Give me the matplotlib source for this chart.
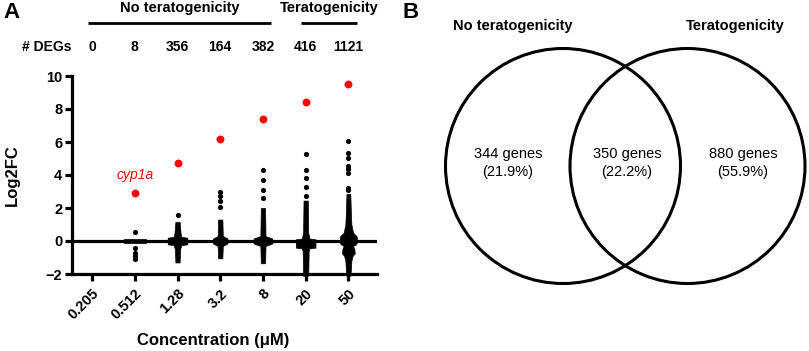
import matplotlib
matplotlib.use("Agg")
import matplotlib.pyplot as plt
import matplotlib.transforms as mtransforms
from matplotlib.patches import Circle
import numpy as np

plt.rcParams['font.family'] = ['Liberation Sans', 'DejaVu Sans']

# ---------------- data ----------------
concentrations = ["0.205", "0.512", "1.28", "3.2", "8", "20", "50"]
degs = ["0", "8", "356", "164", "382", "416", "1121"]
groups = ["No teratogenicity", "Teratogenicity"]
group_span = [(0, 4), (5, 6)]

cyp1a = [None, 2.9, 4.7, 6.2, 7.4, 8.4, 9.5]

# isolated (readable) points per concentration
outliers = [
    [],
    [0.55, -0.45, -0.7, -0.9, -1.1],
    [1.6],
    [3.0, 2.75, 2.45, 2.05],
    [4.3, 3.7, 3.1, 2.6],
    [5.3, 4.3, 3.8, 3.3, 2.75, -2.0],
    [6.05, 5.35, 5.05, 4.55, 4.35, 4.15, 3.2, 3.1],
]
# dense body silhouettes: log2FC levels and half-width of the point cloud
dense_y = [
    [],
    [-0.12, 0.12],
    [-1.3, -0.5, -0.25, -0.2, 0.2, 0.25, 0.5, 1.15],
    [-1.05, -0.3, -0.15, 0.15, 0.3, 1.3],
    [-1.35, -0.3, -0.15, 0.15, 0.3, 2.0],
    [-2.1, -0.6, -0.45, -0.4, 0.1, 0.15, 0.5, 2.45],
    [-2.1, -1.2, -0.9, -0.75, -0.5, -0.3, -0.2, 0.0, 0.3, 0.5, 1.0, 2.0, 2.85],
]
dense_w = [
    [],
    [0.26, 0.26],
    [0.05, 0.06, 0.09, 0.23, 0.23, 0.09, 0.07, 0.05],
    [0.05, 0.06, 0.17, 0.17, 0.06, 0.05],
    [0.05, 0.06, 0.22, 0.22, 0.06, 0.05],
    [0.06, 0.07, 0.09, 0.23, 0.23, 0.09, 0.06, 0.05],
    [0.05, 0.07, 0.10, 0.15, 0.14, 0.11, 0.18, 0.21, 0.19, 0.11, 0.07, 0.055, 0.045],
]

venn_sets = ["No teratogenicity", "Teratogenicity"]
venn_counts = [344, 350, 880]
venn_pct = ["21.9%", "22.2%", "55.9%"]

# ---------------- figure ----------------
W, H = 809, 351
fig = plt.figure(figsize=(W / 100, H / 100), dpi=100)

def rect(l, t, r, b):
    return [l / W, 1 - b / H, (r - l) / W, (b - t) / H]

ax = fig.add_axes(rect(72, 76, 377, 274))
x = np.arange(len(concentrations))
ax.set_xlim(-0.47, 6.67)
ax.set_ylim(-2, 10)

lw = 2.3
for s in ["top", "right"]:
    ax.spines[s].set_visible(False)
for s in ["left", "bottom"]:
    ax.spines[s].set_linewidth(lw)
ax.axhline(0, color="black", lw=lw, zorder=2)

for i in x:
    if dense_y[i]:
        yy = np.array(dense_y[i]); ww = np.array(dense_w[i])
        ax.fill_betweenx(yy, i - ww, i + ww, color="black", lw=0.5,
                         edgecolor="black", zorder=3, clip_on=False)
    if outliers[i]:
        ax.scatter([i] * len(outliers[i]), outliers[i], s=14, color="black",
                   lw=0, zorder=3, clip_on=False)
    if cyp1a[i] is not None:
        ax.scatter([i], [cyp1a[i]], s=32, color="#ff0000", lw=0, zorder=4,
                   clip_on=False)
ax.text(1, 4.0, "cyp1a", color="#ff0000", style="italic", fontsize=10,
        ha="center", va="center")

ax.set_yticks([-2, 0, 2, 4, 6, 8, 10])
ax.set_xticks(x)
ax.set_xticklabels(concentrations, rotation=45, ha="right",
                   rotation_mode="anchor", fontweight="bold", fontsize=10.5)
for t in ax.get_yticklabels():
    t.set_fontweight("bold"); t.set_fontsize(10.5)
ax.tick_params(width=lw, length=5, pad=2)
ax.tick_params(axis="x", pad=4)
ax.set_ylabel("Log2FC", fontweight="bold", fontsize=12)
ax.yaxis.set_label_coords(-60 / 305, 0.5)
ax.set_xlabel("Concentration (μM)", fontweight="bold", fontsize=12)
ax.xaxis.set_label_coords(0.464, -(341 - 274) / 198)
ax.xaxis.label.set_va("center")
ax.yaxis.label.set_va("center")

# header rows
bt = mtransforms.blended_transform_factory(ax.transData, fig.transFigure)
fy = lambda p: 1 - p / H
for i in x:
    ax.text(i, fy(47), degs[i], transform=bt, ha="center", va="center",
            fontweight="bold", fontsize=10)
fig.text(72 / W, fy(47), "# DEGs", ha="right", va="center",
         fontweight="bold", fontsize=10)
for g, (a, b) in zip(groups, group_span):
    ax.plot([a - 0.1, b + 0.2], [fy(23), fy(23)], transform=bt, color="black",
            lw=2, clip_on=False, solid_capstyle="butt")
    ax.text((a + b) / 2 + 0.05, fy(8), g, transform=bt, ha="center",
            va="center", fontweight="bold", fontsize=10.5)

fig.text(3 / W, fy(12), "A", fontweight="bold", fontsize=16, va="center")
fig.text(403 / W, fy(12), "B", fontweight="bold", fontsize=16, va="center")

# ---------------- Venn ----------------
vx = fig.add_axes([0, 0, 1, 1], facecolor="none")
vx.set_xlim(0, W); vx.set_ylim(H, 0); vx.axis("off")
centers = [(563, 166), (687.5, 166)]
for c in centers:
    vx.add_patch(Circle(c, 117.5, fill=False, lw=2.2, ec="black"))
vx.text(513, 26, venn_sets[0], ha="center", va="center", fontweight="bold", fontsize=10.5)
vx.text(735, 26, venn_sets[1], ha="center", va="center", fontweight="bold", fontsize=10.5)
for cx, n, p in zip([508, 627, 743], venn_counts, venn_pct):
    vx.text(cx, 163, f"{n} genes\n({p})", ha="center", va="center",
            fontsize=10.5, linespacing=1.3)

fig.savefig("out.png", dpi=100)
